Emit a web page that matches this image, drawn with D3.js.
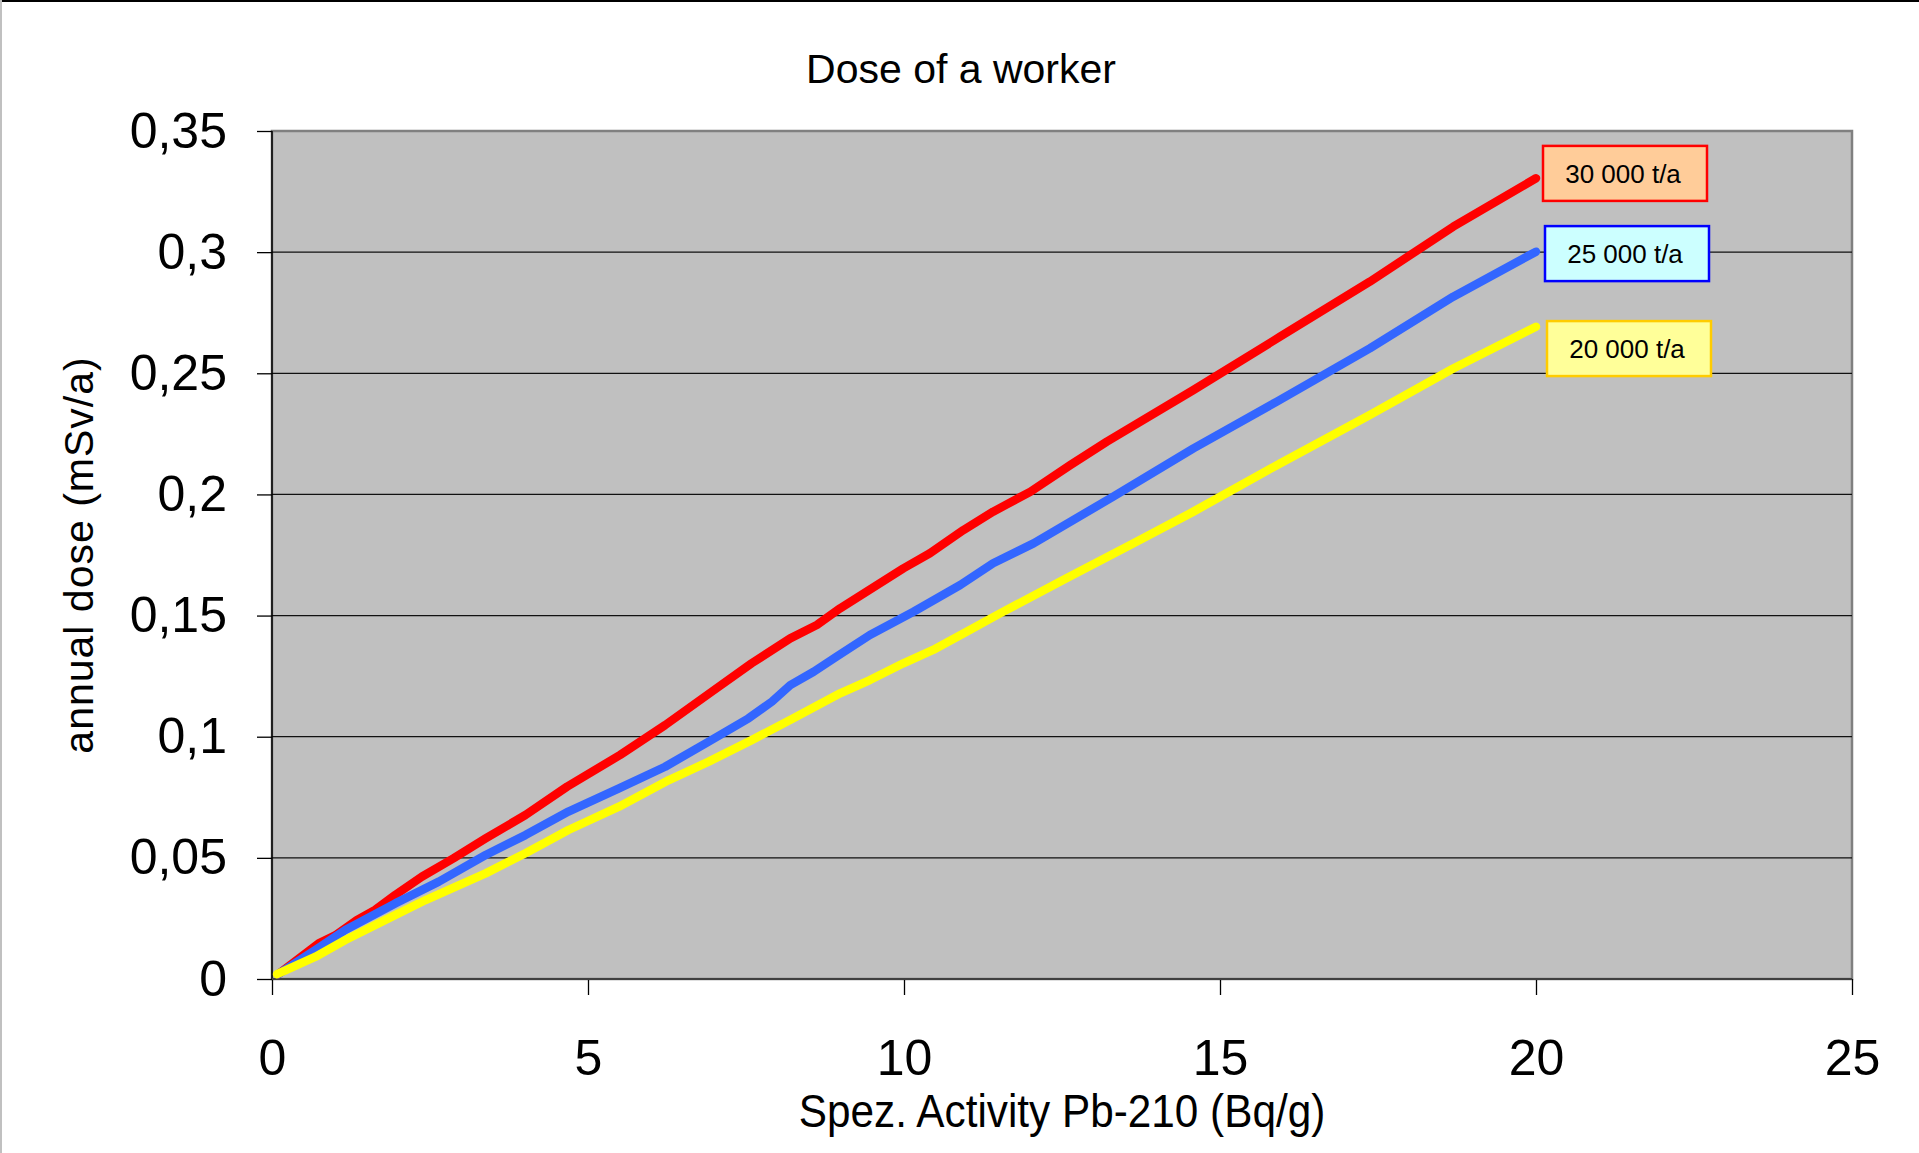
<!DOCTYPE html>
<html>
<head>
<meta charset="utf-8">
<script src="https://cdn.jsdelivr.net/npm/d3@7"></script>
<style>
  html, body { margin: 0; padding: 0; background: #ffffff; }
  svg { display: block; }
  text { font-family: "Liberation Sans", Arial, Helvetica, sans-serif; fill: #000; }
</style>
</head>
<body>
<script>
// ---------- data ----------
const chartTitle = "Dose of a worker";
const xTitle = "Spez. Activity Pb-210 (Bq/g)";
const yTitle = "annual dose (mSv/a)";

const xTicks = [0, 5, 10, 15, 20, 25];
const xTickLabels = ["0", "5", "10", "15", "20", "25"];
const yTicks = [0, 0.05, 0.1, 0.15, 0.2, 0.25, 0.3, 0.35];
const yTickLabels = ["0", "0,05", "0,1", "0,15", "0,2", "0,25", "0,3", "0,35"];

const seriesNames = ["30 000 t/a", "25 000 t/a", "20 000 t/a"];

const activity30 = [0.1, 0.74, 1.0, 1.34, 1.63, 1.95, 2.37, 2.87, 3.38, 4.01, 4.67, 5.51, 6.22, 6.96, 7.59, 8.2, 8.62, 8.99, 9.99, 10.41, 10.94, 11.41, 12.0, 12.63, 13.21, 14.58, 15.95, 17.37, 18.69, 20.0];
const dose30 = [0.002, 0.0147, 0.018, 0.0243, 0.0285, 0.0347, 0.0422, 0.0498, 0.058, 0.0677, 0.0794, 0.0925, 0.1048, 0.1186, 0.1303, 0.1406, 0.1461, 0.153, 0.1695, 0.1757, 0.1853, 0.1929, 0.2011, 0.2121, 0.2218, 0.2431, 0.2651, 0.2878, 0.3105, 0.3305];

const activity25 = [0.1, 0.69, 1.16, 1.95, 2.64, 3.38, 4.01, 4.69, 5.49, 6.22, 6.91, 7.54, 7.91, 8.2, 8.57, 8.93, 9.46, 10.15, 10.89, 11.41, 12.05, 13.31, 14.58, 15.9, 17.37, 18.69, 20.0];
const dose25 = [0.002, 0.012, 0.0202, 0.0312, 0.0402, 0.0512, 0.0594, 0.0691, 0.0787, 0.0876, 0.098, 0.1076, 0.1145, 0.1213, 0.1268, 0.133, 0.142, 0.1516, 0.1626, 0.1716, 0.1798, 0.1991, 0.219, 0.2383, 0.2603, 0.2816, 0.3002];

const activity20 = [0.08, 0.69, 1.16, 1.74, 2.43, 3.38, 4.01, 4.69, 5.49, 6.28, 6.91, 7.59, 8.25, 8.99, 9.46, 9.99, 10.46, 10.99, 11.52, 12.57, 13.58, 14.58, 15.95, 17.37, 18.69, 20.0];
const dose20 = [0.002, 0.0092, 0.0161, 0.0237, 0.0326, 0.0436, 0.0519, 0.0615, 0.0711, 0.0821, 0.0897, 0.0986, 0.1076, 0.1179, 0.1234, 0.1303, 0.1358, 0.1433, 0.1509, 0.1654, 0.1791, 0.1929, 0.2128, 0.2328, 0.252, 0.2692];

// label box vertical centres, in dose units
const labelDose = [0.3325, 0.2994, 0.2602];

// ---------- styles ----------
const lineColors = ["#ff0000", "#3366ff", "#ffff00"];
const boxFills = ["#ffcc99", "#ccffff", "#ffff99"];
const boxStrokes = ["#ff0000", "#0000ff", "#ffcc00"];

const W = 1919, H = 1153;
const plot = { left: 272, right: 1852, top: 131, bottom: 979 };

const svg = d3.select("body").append("svg").attr("width", W).attr("height", H);
svg.append("rect").attr("width", W).attr("height", H).attr("fill", "#fff");

// outer chart border (top black, left light gray)
svg.append("line").attr("x1", 0).attr("x2", W).attr("y1", 1).attr("y2", 1).attr("stroke", "#000").attr("stroke-width", 2);
svg.append("line").attr("x1", 1).attr("x2", 1).attr("y1", 0).attr("y2", H).attr("stroke", "#c0c0c0").attr("stroke-width", 2);

const x = d3.scaleLinear().domain([0, 25]).range([plot.left, plot.right]);
const y = d3.scaleLinear().domain([0, 0.35]).range([plot.bottom, plot.top]);

// plot area
svg.append("rect")
  .attr("x", plot.left).attr("y", plot.top)
  .attr("width", plot.right - plot.left).attr("height", plot.bottom - plot.top)
  .attr("fill", "#c0c0c0").attr("stroke", "#808080").attr("stroke-width", 2.5);

// gridlines
svg.append("g").selectAll("line")
  .data(yTicks.filter(v => v > 0 && v < 0.35))
  .join("line")
  .attr("x1", plot.left).attr("x2", plot.right)
  .attr("y1", d => y(d)).attr("y2", d => y(d))
  .attr("stroke", "#111").attr("stroke-width", 1.3);

// axes
const yAxis = d3.axisLeft(y).tickValues(yTicks).tickSize(15).tickPadding(30)
  .tickFormat((d, i) => yTickLabels[i]);
const gy = svg.append("g").attr("transform", `translate(${plot.left},0)`).call(yAxis);
gy.select(".domain").remove();
gy.selectAll(".tick line").attr("stroke", "#000").attr("stroke-width", 1.3);
gy.selectAll(".tick text").attr("font-size", 50).attr("font-family", "Liberation Sans, Arial, sans-serif");

const xAxis = d3.axisBottom(x).tickValues(xTicks).tickSize(16)
  .tickFormat((d, i) => xTickLabels[i]);
const gx = svg.append("g").attr("transform", `translate(0,${plot.bottom})`).call(xAxis);
gx.select(".domain").remove();
gx.selectAll(".tick line").attr("stroke", "#000").attr("stroke-width", 1.3);
gx.selectAll(".tick text").attr("font-size", 50).attr("font-family", "Liberation Sans, Arial, sans-serif")
  .attr("y", 96).attr("dy", 0);

// axis lines
svg.append("line").attr("x1", plot.left).attr("x2", plot.left).attr("y1", plot.top).attr("y2", plot.bottom)
  .attr("stroke", "#000").attr("stroke-width", 1.5);
svg.append("line").attr("x1", plot.left).attr("x2", plot.right).attr("y1", plot.bottom).attr("y2", plot.bottom)
  .attr("stroke", "#404040").attr("stroke-width", 2);

// series
const series = [
  { xs: activity30, ys: dose30 },
  { xs: activity25, ys: dose25 },
  { xs: activity20, ys: dose20 }
];
const lineGen = d3.line().x(d => x(d[0])).y(d => y(d[1]));
series.forEach((s, i) => {
  const pts = s.xs.map((v, j) => [v, s.ys[j]]);
  svg.append("path").datum(pts)
    .attr("d", lineGen)
    .attr("fill", "none")
    .attr("stroke", lineColors[i])
    .attr("stroke-width", 8.5)
    .attr("stroke-linejoin", "round")
    .attr("stroke-linecap", "round");
});

// series label boxes
const boxW = 164, boxH = 55;
series.forEach((s, i) => {
  const lastX = s.xs[s.xs.length - 1];
  const bx = x(lastX) + 7 + i * 2;
  const cy = y(labelDose[i]);
  svg.append("rect")
    .attr("x", bx).attr("y", cy - boxH / 2)
    .attr("width", boxW).attr("height", boxH)
    .attr("fill", boxFills[i]).attr("stroke", boxStrokes[i]).attr("stroke-width", 2.5);
  svg.append("text")
    .attr("x", bx + boxW / 2 - 2).attr("y", cy + 9.5)
    .attr("text-anchor", "middle").attr("font-size", 26)
    .text(seriesNames[i]);
});

// titles
svg.append("text").attr("x", 961).attr("y", 83).attr("text-anchor", "middle")
  .attr("font-size", 41).text(chartTitle);

svg.append("text")
  .attr("transform", `translate(1062,1127) scale(1,1.1)`)
  .attr("text-anchor", "middle").attr("font-size", 42.3)
  .text(xTitle);

svg.append("text")
  .attr("transform", `translate(93,${(plot.top + plot.bottom) / 2}) rotate(-90)`)
  .attr("text-anchor", "middle").attr("font-size", 41).attr("letter-spacing", 1)
  .text(yTitle);
</script>
</body>
</html>
